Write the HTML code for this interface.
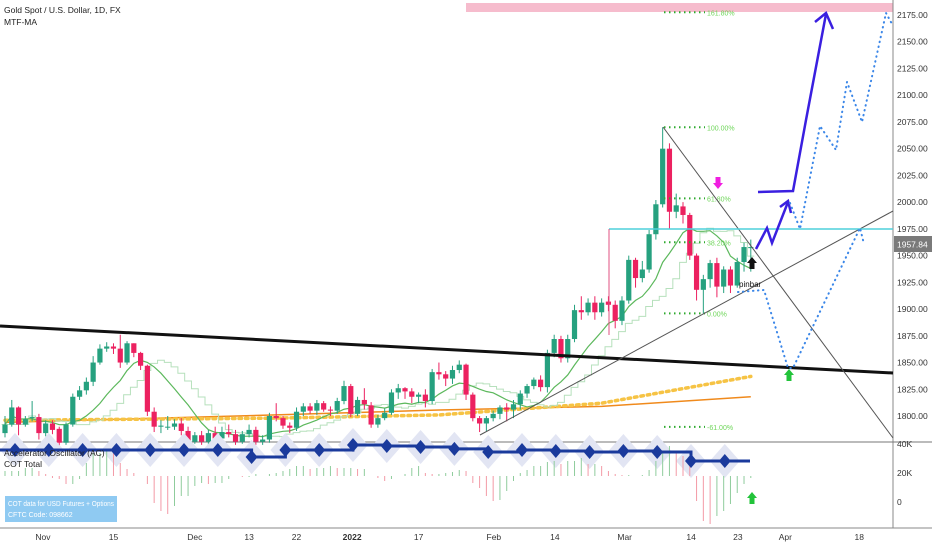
<!DOCTYPE html>
<html><head><meta charset="utf-8"><style>
html,body{margin:0;padding:0;background:#fff;}
svg{display:block;font-family:"Liberation Sans",sans-serif;}
</style></head><body>
<svg id="chart" width="932" height="550" viewBox="0 0 932 550" xmlns="http://www.w3.org/2000/svg">
<rect x="0" y="0" width="932" height="550" fill="#fff"/>
<g id="bg"></g>
<g id="main"></g>
<g id="ind"></g>
<g id="overlay"></g>
</svg>
<script>
const opens=[1784,1792,1808,1792,1798,1799,1784,1793,1788,1775,1792,1818,1824,1832,1850,1863,1865,1863,1850,1868,1859,1847,1804,1790,1790,1790,1793,1786,1776,1782,1776,1784,1779,1785,1783,1776,1783,1787,1776,1778,1800,1798,1791,1789,1804,1809,1805,1812,1806,1805,1814,1828,1802,1815,1810,1792,1798,1803,1822,1826,1823,1818,1820,1814,1841,1839,1835,1843,1848,1820,1798,1793,1798,1802,1808,1806,1811,1821,1828,1834,1827,1859,1872,1854,1872,1899,1897,1906,1897,1907,1904,1889,1908,1946,1929,1937,1970,1998,2050,1991,1996,1988,1950,1918,1928,1943,1921,1937,1922,1944,1957];
const closes=[1792,1808,1792,1797,1799,1784,1793,1787,1775,1792,1818,1824,1832,1850,1863,1865,1863,1850,1868,1859,1847,1804,1790,1791,1790,1793,1786,1776,1782,1776,1784,1779,1785,1783,1776,1783,1787,1776,1778,1800,1798,1791,1789,1804,1809,1805,1812,1806,1805,1814,1828,1802,1815,1811,1792,1798,1803,1822,1826,1823,1818,1820,1814,1841,1839,1835,1843,1848,1820,1798,1793,1798,1802,1808,1806,1811,1821,1828,1834,1827,1859,1872,1854,1872,1899,1897,1906,1897,1906,1904,1889,1908,1946,1929,1937,1970,1998,2050,1991,1997,1988,1950,1918,1928,1943,1921,1937,1922,1944,1958,1958];
const highs=[1800,1815,1809,1800,1814,1802,1796,1796,1790,1794,1821,1828,1836,1856,1867,1869,1868,1876,1870,1868,1860,1848,1808,1796,1800,1797,1798,1790,1785,1786,1787,1790,1790,1792,1787,1786,1792,1790,1782,1803,1812,1800,1794,1808,1812,1812,1815,1814,1809,1817,1833,1830,1818,1826,1813,1801,1807,1825,1830,1827,1826,1822,1825,1844,1850,1842,1847,1852,1849,1822,1800,1800,1805,1810,1812,1815,1824,1830,1836,1838,1862,1876,1875,1876,1904,1912,1910,1912,1910,1912,1908,1912,1950,1948,1945,1974,2002,2070,2055,2008,2000,1990,1952,1932,1946,1948,1940,1940,1948,1962,1965];
const lows=[1780,1790,1782,1790,1795,1778,1781,1783,1770,1773,1790,1815,1820,1828,1848,1860,1858,1845,1848,1855,1843,1800,1785,1784,1787,1787,1782,1772,1774,1773,1773,1776,1777,1780,1773,1774,1780,1773,1773,1775,1795,1788,1784,1786,1800,1802,1801,1804,1800,1802,1811,1799,1800,1806,1789,1789,1796,1801,1816,1816,1812,1812,1808,1811,1834,1828,1830,1840,1815,1795,1785,1786,1795,1797,1795,1798,1806,1817,1825,1823,1822,1855,1850,1850,1869,1890,1894,1890,1893,1898,1882,1885,1905,1920,1925,1934,1965,1995,1975,1985,1980,1946,1908,1896,1920,1911,1915,1915,1920,1935,1935];
const acValues=[5,5,5,8,8,5,2,-2,-3,-8,-8,-3,13,23,23,25,23,13,7,3,0,-8,-27,-35,-38,-30,-20,-20,-10,-7,-8,-7,-7,-3,0,-1,-1,2,0,2,3,5,7,10,10,7,8,8,10,8,8,8,7,7,0,-2,-5,-3,0,2,8,10,3,2,2,3,4,6,5,-7,-12,-20,-25,-24,-15,-5,3,6,10,10,14,15,12,15,15,18,12,12,10,5,2,1,1,0,1,6,15,25,30,25,20,15,-25,-45,-48,-40,-35,-28,-17,-8,-2];
const cotWeeks=[35.9,35.9,35.9,35.9,35.9,35.9,35.9,31.0,35.9,35.9,39.3,38.6,37.9,36.6,34.5,35.9,35.2,34.5,35.2,34.5,28.3,28.3];
const orangeMA=[1794,1801,1805.6,1809,1818];
const orangeIdx=[0,40,64,88,110];
const yellowMA=[1796,1798,1801,1812,1837];
const yellowIdx=[0,40,64,88,110];
const priceTicks=[2175,2150,2125,2100,2075,2050,2025,2000,1975,1950,1925,1900,1875,1850,1825,1800];
const cotTicks=[40,20,0];
const cotTickLabels=["40K","20K","0"];
const dateLabels=["Nov","15","Dec","13","22","2022","17","Feb","14","Mar","14","23","Apr","18"];
const dateIdx=[5.6,16,28,36,43,51.2,61,72.1,81.1,91.4,101.2,108.1,115.1,126];
const fibLevels=[161.8,100,61.8,38.2,0,-61];
const fibLabels=["161.80%","100.00%","61.80%","38.20%","0.00%","-61.00%"];

const NS="http://www.w3.org/2000/svg";
const X0=5,STEP=6.78;
function xs(i){return X0+i*STEP;}
function ys(p){return 416-(p-1800)*1.0693;}
function yc(k){return 502-k*1.45;}
function ya(v){return 476-v;}
function mk(parent,tag,attrs){const e=document.createElementNS(NS,tag);for(const k in attrs)e.setAttribute(k,attrs[k]);document.getElementById(parent).appendChild(e);return e;}

let e;
e=mk('bg','rect',{x:466,y:3,width:427,height:9,fill:'#f6bccd'});


e=mk('bg','line',{x1:893,y1:0,x2:893,y2:528,stroke:'#888','stroke-width':1});


e=mk('bg','line',{x1:0,y1:442,x2:932,y2:442,stroke:'#777','stroke-width':1});


e=mk('bg','line',{x1:0,y1:528,x2:932,y2:528,stroke:'#888','stroke-width':1});



priceTicks.forEach(p=>{
 const t=mk('bg','text',{x:897,y:ys(p)+3,'font-size':8.5,fill:'#333'});t.textContent=p.toFixed(2);
 
 
});
cotTicks.forEach((k,j)=>{
 const t=mk('bg','text',{x:897,y:yc(k)+3,'font-size':8.5,fill:'#333'});t.textContent=cotTickLabels[j];
 
 
});
dateLabels.forEach((d,j)=>{
 const t=mk('bg','text',{x:xs(dateIdx[j]),y:540,'font-size':8.5,fill:'#333','text-anchor':'middle','font-weight':d==='2022'?'bold':'normal'});t.textContent=d;
 
 
});

function polyFrom(idx,vals){return idx.map((i,j)=>xs(i)+','+ys(vals[j])).join(' ');}
e=mk('main','polyline',{points:polyFrom(orangeIdx,orangeMA),fill:'none',stroke:'#f08a1c','stroke-width':1.5});


e=mk('main','polyline',{points:polyFrom(yellowIdx,yellowMA),fill:'none',stroke:'#f6c344','stroke-width':3.5,'stroke-dasharray':'2.5 4','stroke-linecap':'round'});



const sma=[];
for(let i=0;i<closes.length;i++){const a=Math.max(0,i-9);let s=0;for(let k=a;k<=i;k++)s+=closes[k];sma.push(s/(i-a+1));}
let stepPts=[];
for(let i=0;i<closes.length;i++){const v=sma[Math.max(0,i-3)];
 stepPts.push(xs(i-0.5)+','+ys(v));stepPts.push(xs(i+0.5)+','+ys(v));}
e=mk('main','polyline',{points:stepPts.join(' '),fill:'none',stroke:'#b6e0bc','stroke-width':1});


e=mk('main','polyline',{points:sma.map((v,i)=>xs(i)+','+ys(v)).join(' '),fill:'none',stroke:'#5cb85c','stroke-width':1.2});



for(let i=0;i<opens.length;i++){
 const up=closes[i]>=opens[i];const col=up?'#26a17f':'#ec2160';const cx=xs(i);
 const w=mk('main','line',{x1:cx,x2:cx,y1:ys(highs[i]),y2:ys(lows[i]),stroke:col,'stroke-width':1});
 
 
 const top=ys(Math.max(opens[i],closes[i])),bot=ys(Math.min(opens[i],closes[i]));
 const b=mk('main','rect',{x:cx-2.6,y:top,width:5.2,height:Math.max(1,bot-top),fill:col});
 
 
}

fibLevels.forEach((f,j)=>{
 const p=1896+(2070-1896)*f/100;const y=ys(p);
 const l=mk('overlay','line',{x1:664,x2:705,y1:y,y2:y,stroke:'#2eaa2e','stroke-width':2,'stroke-dasharray':'1.5 3.5'});
 
 
 const t=mk('overlay','text',{x:707,y:y+3,'font-size':7,fill:'#6fd65a'});t.textContent=fibLabels[j];
 
 
});

function ln(name,x1,y1,x2,y2,stroke,w,dash){const l=mk('overlay','line',{x1,y1,x2,y2,stroke,'stroke-width':w});if(dash)l.setAttribute('stroke-dasharray',dash);return l;}
e=ln('resistance-trendline',0,326,893,373,'#111',3);

e=ln('descending-trendline',663,127,893,438,'#555',1);

e=ln('ascending-trendline',480,435,893,211,'#555',1);

e=ln('horizontal-level-1975',609,229,893,229,'#4fd1dc',1.5);

e=ln('vertical-marker',609,229,609,335,'#e05080',1);


function pl(name,pts,stroke,w,dash){const p=mk('overlay','polyline',{points:pts,fill:'none',stroke,'stroke-width':w,'stroke-linejoin':'miter'});if(dash){p.setAttribute('stroke-dasharray',dash);p.setAttribute('stroke-linecap','round');}return p;}
e=pl('projection-path-solid-1','756,249 767,228 772,243 788,202','#3a1fe0',2.5);

e=pl('projection-arrowhead-1','780,207 788,201 791,213','#3a1fe0',2.5);

e=pl('projection-path-solid-2','758,192 793,191 806,120 826,14','#3a1fe0',2.5);

e=pl('projection-arrowhead-2','815,22 826,13 833,29','#3a1fe0',2.5);

e=pl('projection-path-dotted-upper','790,203 800,229 820,126 836,150 847,82 862,122 886,13 892,24','#3a86e8',2,'0.5 4.5');

e=pl('projection-path-dotted-lower','738,292 764,290 788,368 793,368 860,228 864,244','#3a86e8',2,'0.5 4.5');


function arrow(name,cx,top,col,down){const h=12,w=10;let pts;
 if(down)pts=`${cx-2.5},${top} ${cx+2.5},${top} ${cx+2.5},${top+6} ${cx+w/2},${top+6} ${cx},${top+h} ${cx-w/2},${top+6} ${cx-2.5},${top+6}`;
 else pts=`${cx},${top} ${cx+w/2},${top+6} ${cx+2.5},${top+6} ${cx+2.5},${top+h} ${cx-2.5},${top+h} ${cx-2.5},${top+6} ${cx-w/2},${top+6}`;
 const p=mk('overlay','polygon',{points:pts,fill:col});return p;}
e=arrow('sell-arrow',718,177,'#f01ee0',true);

e=arrow('pinbar-arrow',752,257,'#111',false);

e=arrow('support-arrow',789,369,'#22c33a',false);

e=arrow('cot-arrow',752,492,'#22c33a',false);

let t=mk('overlay','text',{x:739,y:287,'font-size':8,fill:'#111'});t.textContent='pinbar';



e=mk('overlay','rect',{x:894,y:236,width:38,height:16,fill:'#7a7a7a'});


t=mk('overlay','text',{x:897,y:247.5,'font-size':8.5,fill:'#fff'});t.textContent='1957.84';



const dX=i=>15+i*33.8;
for(let k=0;k<cotWeeks.length;k++){
 const h=mk('ind','polygon',{points:`${dX(k)},${yc(cotWeeks[k])-17} ${dX(k)+15},${yc(cotWeeks[k])} ${dX(k)},${yc(cotWeeks[k])+17} ${dX(k)-15},${yc(cotWeeks[k])}`,fill:'#e2e5f3'});
 
 
}
for(let i=0;i<acValues.length;i++){
 const v=acValues[i];const up=i===0||v>=acValues[i-1];
 const b=mk('ind','line',{x1:xs(i),x2:xs(i),y1:ya(0),y2:ya(v),stroke:up?'#8fcc9c':'#f39aa6','stroke-width':1});
 
 
}
let cp=[`0,${yc(cotWeeks[0])}`];
for(let k=0;k<cotWeeks.length;k++){const end=k<cotWeeks.length-1?dX(k+1):750;cp.push(`${dX(k)},${yc(cotWeeks[k])}`);cp.push(`${end},${yc(cotWeeks[k])}`);}
e=mk('ind','polyline',{points:cp.join(' '),fill:'none',stroke:'#1a3a9c','stroke-width':3});


for(let k=0;k<cotWeeks.length;k++){
 const d=mk('ind','polygon',{points:`${dX(k)},${yc(cotWeeks[k])-7} ${dX(k)+6},${yc(cotWeeks[k])} ${dX(k)},${yc(cotWeeks[k])+7} ${dX(k)-6},${yc(cotWeeks[k])}`,fill:'#1a3a9c'});
 
 
}

t=mk('overlay','text',{x:4,y:13,'font-size':8.5,fill:'#222'});t.textContent='Gold Spot / U.S. Dollar, 1D, FX';


t=mk('overlay','text',{x:4,y:25,'font-size':8.5,fill:'#222'});t.textContent='MTF-MA';


t=mk('overlay','text',{x:4,y:456,'font-size':8.5,fill:'#222'});t.textContent='Accelerator Oscillator (AC)';


t=mk('overlay','text',{x:4,y:467,'font-size':8.5,fill:'#222'});t.textContent='COT Total';


e=mk('overlay','rect',{x:5,y:496,width:112,height:26,fill:'#8fcaf2'});


t=mk('overlay','text',{x:8,y:506,'font-size':7,fill:'#fff',textLength:106,lengthAdjust:'spacingAndGlyphs'});t.textContent='COT data for USD Futures + Options';


t=mk('overlay','text',{x:8,y:517,'font-size':7,fill:'#fff'});t.textContent='CFTC Code: 098662';


</script>
</body></html>
